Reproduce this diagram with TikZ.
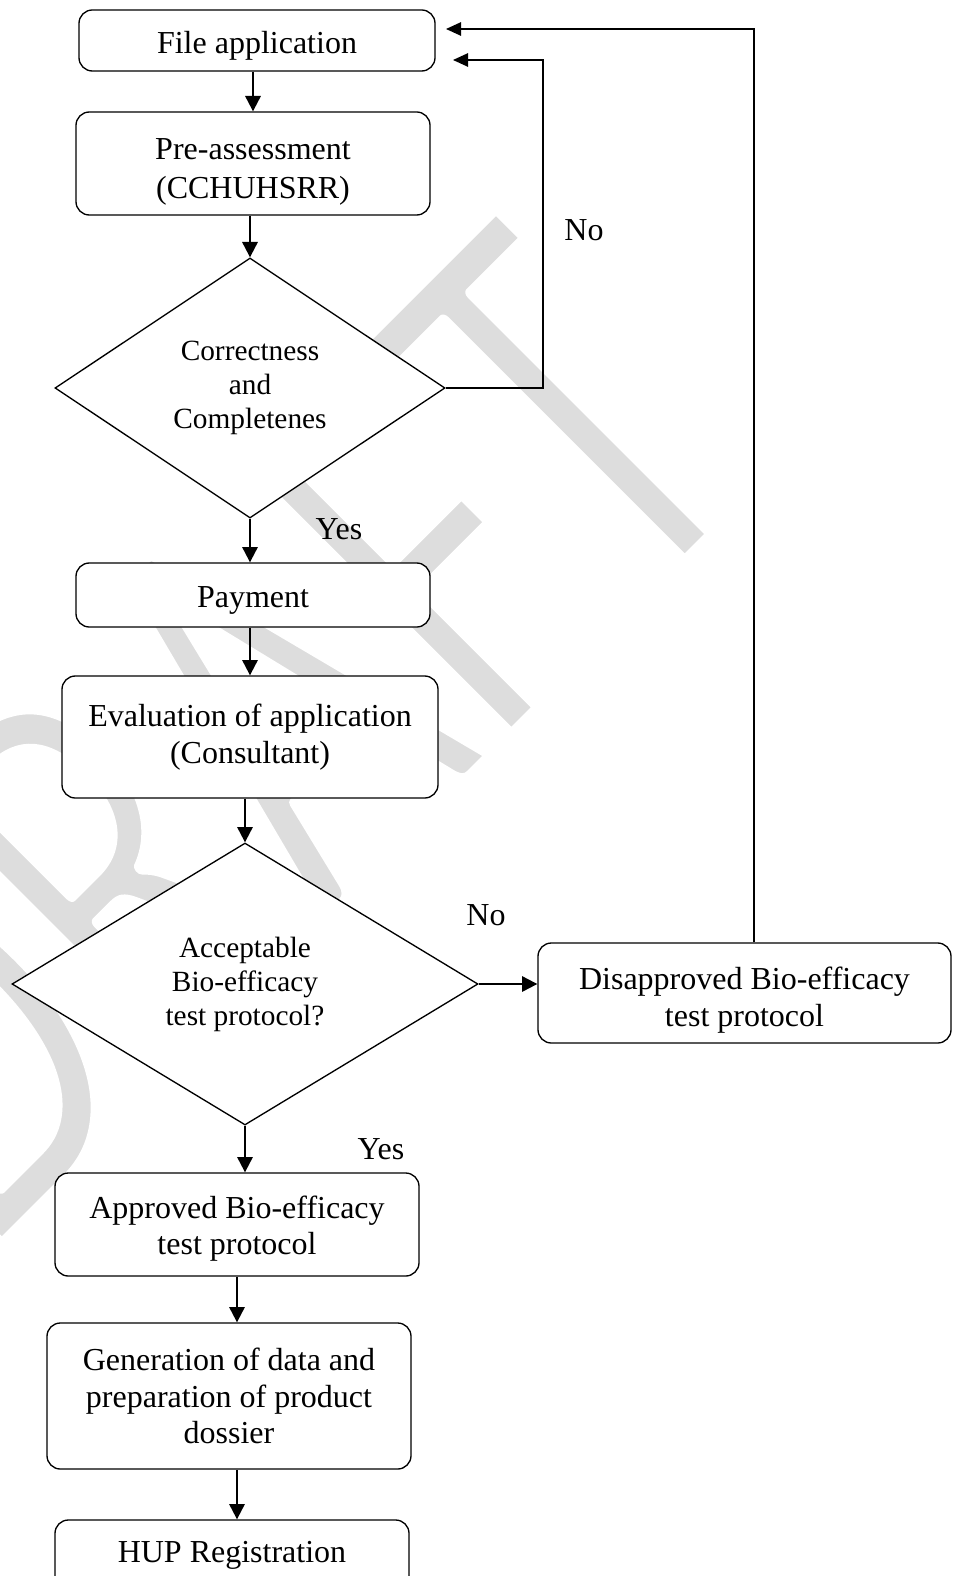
\documentclass[tikz,border=0pt]{standalone}
\usepackage{fontspec}
\setmainfont{Liberation Serif}
\newfontfamily\wmfont{Carlito}
\usetikzlibrary{arrows.meta,shapes.geometric}
\definecolor{wmgray}{RGB}{221,221,221}
\newcommand\toppad[1]{\rule{0pt}{#1}}
\begin{document}
\begin{tikzpicture}[x=0.75pt,y=-0.75pt,
  box/.style={draw,line width=1pt,rounded corners=10pt,fill=white,align=center,
    font=\fontsize{24}{27.5}\selectfont,inner sep=0pt},
  dia/.style={draw,line width=1pt,fill=white,shape=diamond,inner sep=0pt,align=center,
    font=\fontsize{22}{25.5}\selectfont},
  lab/.style={font=\fontsize{24}{28}\selectfont,inner sep=0pt},
  arr/.style={line width=1.6pt,-{Triangle[length=11.5pt,width=11.5pt]}},
  back/.style={line width=1.2pt,-{Triangle[length=11.25pt,width=10pt]}}]
\useasboundingbox (0,0) rectangle (953,1576);
\clip (0,0) rectangle (953,1576);
% watermark
\node[rotate=45,xscale=0.69,anchor=base east,text=wmgray,inner sep=0pt,
  font=\wmfont\fontsize{451}{451}\selectfont] (wm) at (771,477)
  {\special{pdf:literal direct 2 Tr 1 G 10.4 w 1 j}DRAFT\special{pdf:literal direct 0 Tr}};
% nodes
\node[box,minimum width={356*0.75pt},minimum height={61*0.75pt}] (fa) at (257,40.5) {\toppad{23.9pt}File application};
\node[box,minimum width={354*0.75pt},minimum height={103*0.75pt},font=\fontsize{24}{29.25}\selectfont] (pa) at (253,163.5) {\toppad{28.7pt}Pre-assessment\\(CCHUHSRR)};
\node[dia,minimum width={390*0.75pt},minimum height={260*0.75pt}] (d1) at (250,388) {Correctness\\and\\Completenes};
\node[box,minimum width={354*0.75pt},minimum height={64*0.75pt}] (pay) at (253,595) {\toppad{23.4pt}Payment};
\node[box,minimum width={376*0.75pt},minimum height={122*0.75pt}] (ev) at (250,737) {Evaluation of application\\(Consultant)};
\node[dia,minimum width={466*0.75pt},minimum height={282*0.75pt}] (d2) at (245,984) {Acceptable\\Bio-efficacy\\test protocol?};
\node[box,minimum width={413*0.75pt},minimum height={100*0.75pt}] (dis) at (744.5,993) {\toppad{27.7pt}Disapproved Bio-efficacy\\test protocol};
\node[box,minimum width={364*0.75pt},minimum height={103*0.75pt}] (ap) at (237,1224.5) {\toppad{23.2pt}Approved Bio-efficacy\\test protocol};
\node[box,minimum width={364*0.75pt},minimum height={146*0.75pt}] (gen) at (229,1396) {Generation of data and\\preparation of product\\dossier};
\node[box,minimum width={354*0.75pt},minimum height={70*0.75pt}] (hup) at (232,1555) {HUP Registration};
% labels
\node[lab] (no1) at (584,230) {No};
\node[lab] (no2) at (486,915) {No};
\node[lab] (yes1) at (339,529) {Yes};
\node[lab] (yes2) at (381,1149) {Yes};
% connectors
\draw[arr] (pa.north |- fa.south) -- (pa.north);
\draw[arr] (d1.north |- pa.south) -- (d1.north);
\draw[arr] (d1.south) -- (d1.south |- pay.north);
\draw[arr] (ev.north |- pay.south) -- (ev.north);
\draw[arr] (d2.north |- ev.south) -- (d2.north);
\draw[arr] (d2.east) -- (d2.east -| dis.west);
\draw[arr] (d2.south) -- (d2.south |- ap.north);
\draw[arr] (ap.south) -- (ap.south |- gen.north);
\draw[arr] (ap.south |- gen.south) -- (ap.south |- hup.north);
\coordinate (r1) at (543,60);
\coordinate (t1) at (453,60);
\coordinate (r2) at (754,29);
\coordinate (t2) at (446,29);
\draw[back] (d1.east) -- (d1.east -| r1) -- (r1) -- (t1);
\draw[back] (dis.north -| r2) -- (r2) -- (t2);
\end{tikzpicture}
\end{document}
